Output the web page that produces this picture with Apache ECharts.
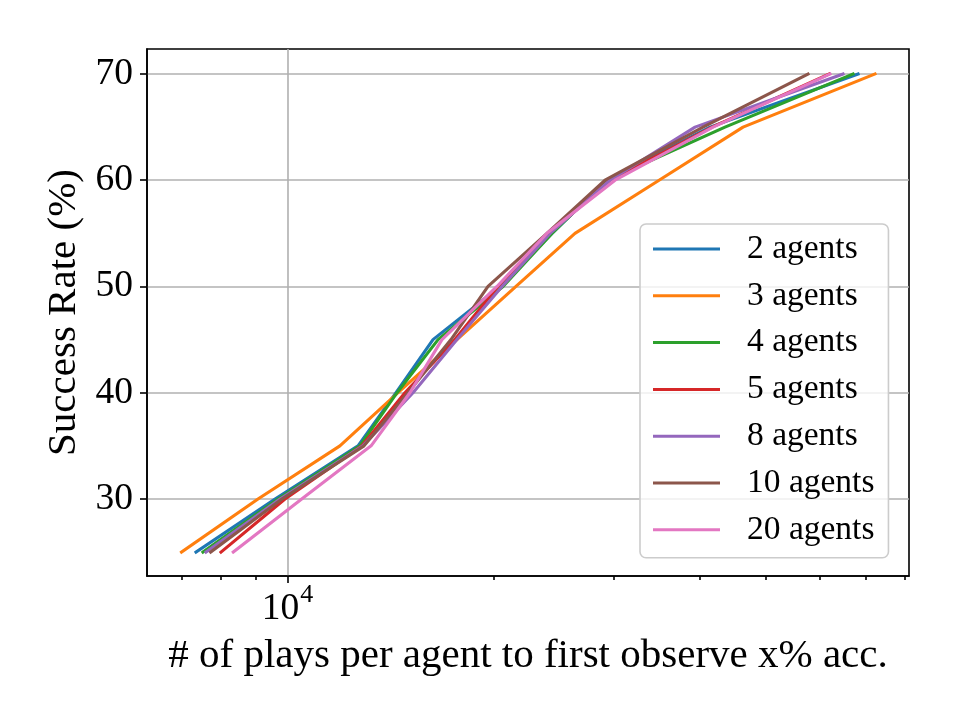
<!DOCTYPE html>
<html>
<head>
<meta charset="utf-8">
<script src="https://cdn.jsdelivr.net/npm/echarts@6/dist/echarts.min.js"></script>
<style>
  html, body { margin: 0; padding: 0; background: #fff; }
  #main { width: 960px; height: 720px; }
</style>
</head>
<body>
<div id="main"></div>
<script>
// success rate levels (%) reached by every run
const levels = [25, 30, 35, 40, 45, 50, 55, 60, 65, 70];
// plays per agent needed to first reach each level
const plays2 = [7350, 9590, 12680, 14410, 16320, 20450, 24360, 29310, 41470, 68250];
const plays3 = [7000, 9055, 11930, 14510, 17690, 21580, 26320, 34930, 46340, 72260];
const plays4 = [7524, 9685, 12760, 14460, 16600, 20660, 24360, 29310, 43610, 67110];
const plays5 = [7994, 9916, 12850, 14850, 17570, 20310, 24040, 29610, 41750, 61900];
const plays8 = [7601, 9751, 12890, 15260, 17690, 20590, 24200, 29610, 39430, 64880];
const plays10 = [7722, 9817, 12940, 15000, 17340, 19640, 23950, 29120, 40500, 57670];
const plays20 = [8332, 10490, 13250, 15100, 16820, 20240, 23950, 30120, 41890, 62110];

const seriesNames = ['2 agents', '3 agents', '4 agents', '5 agents', '8 agents', '10 agents', '20 agents'];
const seriesPlays = [plays2, plays3, plays4, plays5, plays8, plays10, plays20];
const colors = ['#1f77b4', '#ff7f0e', '#2ca02c', '#d62728', '#9467bd', '#8c564b', '#e377c2'];

const yTicks = [30, 40, 50, 60, 70];
const xMajorTicks = [10000];
const xMinorTicks = [7000, 8000, 9000, 20000, 30000, 40000, 50000, 60000, 70000, 80000];

const FONT = 'Liberation Serif';
const tickStyle = { color: '#000', width: 1.6 };
const gridStyle = { color: '#b0b0b0', width: 1.6 };

let series = seriesNames.map((name, k) => ({
  name: name,
  type: 'line',
  symbol: 'none',
  color: colors[k],
  data: levels.map((y, i) => [seriesPlays[k][i], y]),
  lineStyle: { width: 3.1, cap: 'square', join: 'round' }
}))

let option = {
  animation: false,
  backgroundColor: '#fff',
  grid: {
    left: 147, right: 51, top: 49, bottom: 144,
    show: true, borderColor: '#000', borderWidth: 1.6
  },
  xAxis: [
    {
      type: 'log',
      min: 6232,
      max: 81020,
      position: 'bottom',
      axisLine: { show: true, onZero: false, lineStyle: tickStyle },
      axisTick: { customValues: xMajorTicks, length: 7, lineStyle: tickStyle },
      axisLabel: {
        customValues: xMajorTicks,
        margin: 6,
        formatter: () => '{b|10}{s|4}',
        rich: {
          b: { fontFamily: FONT, fontSize: 37.5, color: '#000', lineHeight: 46, verticalAlign: 'bottom' },
          s: { fontFamily: FONT, fontSize: 26, color: '#000', lineHeight: 26, verticalAlign: 'top', padding: [0, 0, 0, 1] }
        }
      },
      splitLine: { show: true, lineStyle: gridStyle },
      name: '# of plays per agent to first observe x% acc.',
      nameLocation: 'middle',
      nameGap: 60,
      nameTextStyle: { fontFamily: FONT, fontSize: 41, color: '#000' }
    },
    {
      type: 'log',
      min: 6232,
      max: 81020,
      position: 'bottom',
      axisLine: { show: false, onZero: false },
      axisTick: { customValues: xMinorTicks, length: 4, lineStyle: tickStyle },
      axisLabel: { show: false },
      splitLine: { show: false }
    }
  ],
  yAxis: {
    type: 'value',
    min: 22.75,
    max: 72.35,
    axisLine: { show: true, onZero: false, lineStyle: tickStyle },
    axisTick: { customValues: yTicks, length: 7, lineStyle: tickStyle },
    axisLabel: { customValues: yTicks, margin: 14, fontFamily: FONT, fontSize: 37.5, color: '#000' },
    splitLine: { show: true, lineStyle: gridStyle },
    name: 'Success Rate (%)',
    nameLocation: 'middle',
    nameGap: 62,
    nameTextStyle: { fontFamily: FONT, fontSize: 41, color: '#000' }
  },
  legend: {
    orient: 'vertical',
    left: 640,
    top: 224,
    data: seriesNames,
    icon: 'rect',
    itemWidth: 67,
    itemHeight: 3,
    itemGap: 12.8,
    padding: [8, 14, 11, 13],
    backgroundColor: 'rgba(255,255,255,0.8)',
    borderColor: '#cccccc',
    borderWidth: 1.6,
    borderRadius: 6,
    itemStyle: { borderWidth: 0 },
    textStyle: { fontFamily: FONT, fontSize: 33.5, color: '#000', lineHeight: 34, padding: [0, 0, 0, 22] }
  },
  series: series
}

let chart = echarts.init(document.getElementById('main'))
chart.setOption(option)
</script>
</body>
</html>
